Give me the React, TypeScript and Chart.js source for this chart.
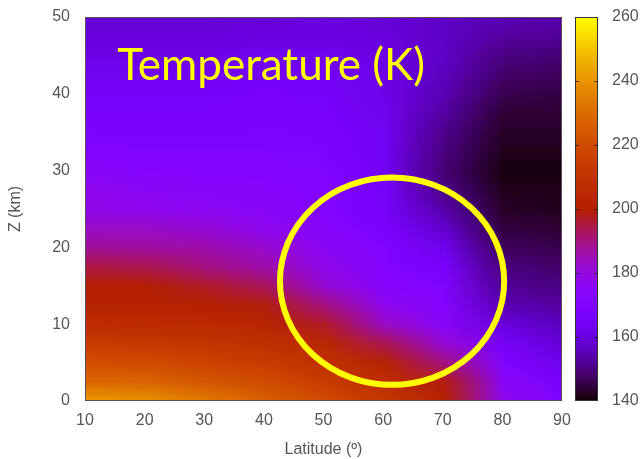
import React, { useEffect, useRef } from 'react';
import { Chart, registerables } from 'chart.js';

Chart.register(...registerables);

// Grid columns: latitude (degrees)
const latitudes = [10, 20, 30, 40, 50, 60, 70, 80, 90];
// Grid rows: altitude (km), top to bottom
const altitudesKm = [50, 47.5, 45, 42.5, 40, 37.5, 35, 32.5, 30, 27.5, 25, 22.5, 20, 17.5, 15, 12.5, 10, 7.5, 5, 2.5, 0];
// Temperature (K), one row per altitude, one value per latitude
const temperatureK = [
  [159, 159, 159, 159, 160, 159, 157, 155, 154],
  [160, 160, 160, 161, 161, 160, 157, 153, 152],
  [162, 162, 162, 163, 163, 161, 157, 150, 149],
  [164, 164, 164, 165, 165, 162, 156, 148, 147],
  [166, 166, 166, 167, 166, 162, 155, 146, 145],
  [167, 167, 167, 168, 167, 163, 153, 144, 144],
  [169, 168, 168, 169, 168, 164, 151, 143, 143],
  [171, 170, 170, 170, 169, 164, 150, 142, 142],
  [174, 172, 171, 171, 170, 165, 149, 141, 141],
  [177, 175, 174, 173, 171, 166, 151, 142, 142],
  [178, 177, 176, 174, 171, 166, 154, 143, 142],
  [183, 183, 181, 177, 173, 168, 158, 145, 144],
  [188, 187, 186, 182, 175, 170, 163, 147, 146],
  [195, 194, 190, 186, 178, 171, 167, 150, 148],
  [200, 200, 197, 193, 181, 173, 170, 152, 150],
  [202, 202, 201, 199, 190, 177, 172, 155, 153],
  [207, 206, 205, 203, 197, 183, 174, 160, 156],
  [214, 213, 211, 209, 204, 194, 181, 166, 159],
  [221, 220, 217, 214, 209, 202, 190, 170, 163],
  [229, 228, 224, 220, 214, 207, 199, 174, 167],
  [242, 240, 234, 227, 220, 212, 201, 177, 170],
];

const latRange = [10, 90];
const zRange = [0, 50];
const colorbarRange = [140, 260];
const colorbarTicks = [140, 160, 180, 200, 220, 240, 260];

const chartTitle = 'Temperature (K)';
const titleAnchor = { lat: 15.4, z: 41.8 };
const xAxisTitle = 'Latitude (º)';
const yAxisTitle = 'Z (km)';

// highlighted region (ellipse in data units)
const highlight = { lat: 61.5, z: 15.6, rLat: 18.8, rZ: 13.5 };

function palette(t: number): [number, number, number] {
  const x = Math.min(1, Math.max(0, (t - colorbarRange[0]) / (colorbarRange[1] - colorbarRange[0])));
  const r = Math.sqrt(x);
  const g = x * x * x;
  const b = Math.max(0, Math.sin(2 * Math.PI * x));
  return [Math.round(255 * r), Math.round(255 * g), Math.round(255 * b)];
}

const heatmapPlugin = {
  id: 'heatmap',
  beforeDatasetsDraw(chart: any) {
    const { ctx, chartArea: a, scales } = chart;
    const xs = scales.x;
    const ys = scales.y;
    const w = latitudes.length;
    const h = altitudesKm.length;
    const off = document.createElement('canvas');
    off.width = w;
    off.height = h;
    const octx = off.getContext('2d') as CanvasRenderingContext2D;
    const img = octx.createImageData(w, h);
    for (let j = 0; j < h; j++) {
      for (let i = 0; i < w; i++) {
        const [r, g, b] = palette(temperatureK[j][i]);
        const k = (j * w + i) * 4;
        img.data[k] = r;
        img.data[k + 1] = g;
        img.data[k + 2] = b;
        img.data[k + 3] = 255;
      }
    }
    octx.putImageData(img, 0, 0);
    const dLat = latitudes[1] - latitudes[0];
    const dZ = altitudesKm[0] - altitudesKm[1];
    const left = xs.getPixelForValue(latitudes[0] - dLat / 2);
    const right = xs.getPixelForValue(latitudes[w - 1] + dLat / 2);
    const top = ys.getPixelForValue(altitudesKm[0] + dZ / 2);
    const bottom = ys.getPixelForValue(altitudesKm[h - 1] - dZ / 2);
    ctx.save();
    ctx.beginPath();
    ctx.rect(a.left, a.top, a.right - a.left, a.bottom - a.top);
    ctx.clip();
    ctx.imageSmoothingEnabled = true;
    ctx.drawImage(off, left, top, right - left, bottom - top);
    ctx.restore();
  },
  afterDatasetsDraw(chart: any) {
    const { ctx, chartArea: a, scales } = chart;
    const xs = scales.x;
    const ys = scales.y;
    // plot border
    ctx.save();
    ctx.strokeStyle = '#5a4a5a';
    ctx.lineWidth = 1;
    ctx.strokeRect(a.left + 0.5, a.top + 0.5, a.right - a.left - 1, a.bottom - a.top - 1);

    // highlight ellipse
    const cx = xs.getPixelForValue(highlight.lat);
    const cy = ys.getPixelForValue(highlight.z);
    const rx = Math.abs(xs.getPixelForValue(highlight.lat + highlight.rLat) - cx);
    const ry = Math.abs(ys.getPixelForValue(highlight.z + highlight.rZ) - cy);
    ctx.beginPath();
    ctx.ellipse(cx, cy, rx, ry, 0, 0, Math.PI * 2);
    ctx.strokeStyle = '#ffff00';
    ctx.lineWidth = 6;
    ctx.stroke();

    // title in plot
    const tx = xs.getPixelForValue(titleAnchor.lat);
    const ty = ys.getPixelForValue(titleAnchor.z);
    ctx.fillStyle = '#ffff00';
    ctx.textBaseline = 'alphabetic';
    ctx.textAlign = 'left';
    ctx.font = '44px Lato, "Open Sans", sans-serif';
    ctx.fillText(chartTitle, tx, ty);
    ctx.restore();
  },
  afterDraw(chart: any) {
    const { ctx } = chart;
    const cb = chart.scales.cb;
    const x0 = cb.left + 13;
    const x1 = cb.left + 36;
    const top = cb.getPixelForValue(colorbarRange[1]);
    const bottom = cb.getPixelForValue(colorbarRange[0]);
    ctx.save();
    for (let py = Math.floor(top); py < Math.ceil(bottom); py++) {
      const v = cb.getValueForPixel(py + 0.5);
      const [r, g, b] = palette(v);
      ctx.fillStyle = `rgb(${r},${g},${b})`;
      ctx.fillRect(x0, py, x1 - x0, 1);
    }
    ctx.strokeStyle = '#333';
    ctx.lineWidth = 1;
    ctx.strokeRect(x0 + 0.5, top + 0.5, x1 - x0 - 1, bottom - top - 1);
    ctx.strokeStyle = 'rgba(0,0,0,0.6)';
    for (const t of colorbarTicks.slice(1, -1)) {
      const py = Math.round(cb.getPixelForValue(t)) + 0.5;
      ctx.beginPath();
      ctx.moveTo(x0, py);
      ctx.lineTo(x0 + 4, py);
      ctx.moveTo(x1 - 4, py);
      ctx.lineTo(x1, py);
      ctx.stroke();
    }
    ctx.restore();
  },
};

const labelFont = { family: '"Liberation Sans", Arial, sans-serif', size: 16 };
const labelColor = '#555555';

function fixSize(prop: 'width' | 'height', size: number) {
  return (s: any) => {
    s[prop] = size;
    s.paddingTop = 0;
    s.paddingBottom = 0;
    s.paddingLeft = 0;
    s.paddingRight = 0;
  };
}

export default function App() {
  const ref = useRef<HTMLCanvasElement | null>(null);
  useEffect(() => {
    if (!ref.current) return;
    const chart = new Chart(ref.current, {
      type: 'scatter',
      data: { datasets: [] },
      plugins: [heatmapPlugin],
      options: {
        responsive: false,
        animation: false,
        devicePixelRatio: 1,
        layout: { autoPadding: false, padding: { top: 17, left: 0, right: 0, bottom: 0 } },
        plugins: { legend: { display: false }, tooltip: { enabled: false } },
        scales: {
          x: {
            type: 'linear',
            position: 'bottom',
            min: latRange[0],
            max: latRange[1],
            ticks: { stepSize: 10, padding: 10, color: labelColor, font: labelFont },
            grid: { display: false, drawTicks: false },
            border: { display: false },
            title: { display: true, text: xAxisTitle, color: labelColor, font: labelFont, padding: { top: 0, bottom: 0 } },
            afterFit: fixSize('height', 58),
          },
          y: {
            type: 'linear',
            position: 'left',
            min: zRange[0],
            max: zRange[1],
            ticks: { stepSize: 10, padding: 15, color: labelColor, font: labelFont },
            grid: { display: false, drawTicks: false },
            border: { display: false },
            title: { display: true, text: yAxisTitle, color: labelColor, font: labelFont, padding: { top: 6, bottom: 0 } },
            afterFit: fixSize('width', 85),
          },
          cb: {
            type: 'linear',
            position: 'right',
            min: colorbarRange[0],
            max: colorbarRange[1],
            ticks: { stepSize: 20, padding: 50, color: labelColor, font: labelFont },
            grid: { display: false, drawTicks: false },
            border: { display: false },
            afterFit: fixSize('width', 82),
          },
        },
      } as any,
    });
    return () => chart.destroy();
  }, []);
  return (
    <div style={{ position: 'absolute', left: 0, top: 0, width: 644, height: 459, background: '#fff' }}>
      <canvas ref={ref} width={644} height={459} style={{ display: 'block' }} />
    </div>
  );
}
